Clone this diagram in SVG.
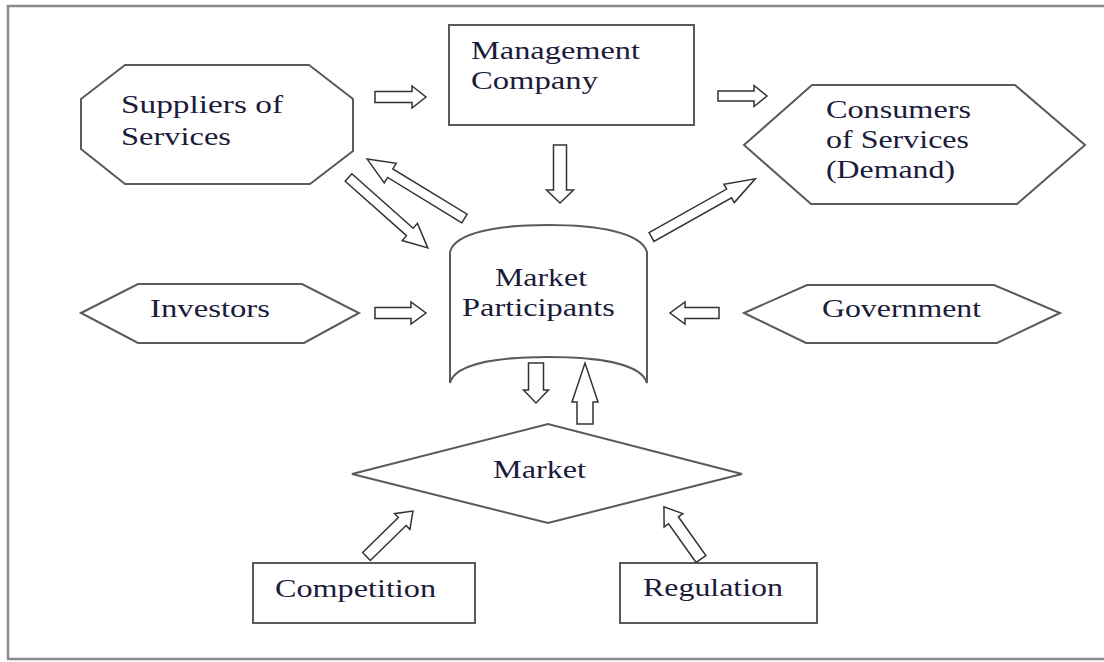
<svg xmlns="http://www.w3.org/2000/svg" width="1104" height="662" viewBox="0 0 1104 662">
<style>
.frame{fill:none;stroke:#8a8a8a;stroke-width:2.5}
.node{fill:#fff;stroke:#5a5a5a;stroke-width:2}
.arr{fill:#fff;stroke:#333;stroke-width:1.5;stroke-linejoin:miter}
.t{font-family:"Liberation Serif","Times New Roman",serif;font-size:26px;fill:#1b1b3a}
</style>
<rect width="1104" height="662" fill="#fff"/>
<rect class="frame" x="8" y="6" width="1100" height="653"/>
<g id="suppliers">
<polygon class="node" points="81,99 125,65 309,65 353,99 353,151 310,184 125,184 81,149"/>
<text class="t" x="121" y="113" textLength="162" lengthAdjust="spacingAndGlyphs">Suppliers of</text>
<text class="t" x="121" y="145" textLength="110" lengthAdjust="spacingAndGlyphs">Services</text>
</g>
<g id="management">
<rect class="node" x="449" y="25" width="245" height="100"/>
<text class="t" x="471" y="59" textLength="169" lengthAdjust="spacingAndGlyphs">Management</text>
<text class="t" x="471" y="89" textLength="127" lengthAdjust="spacingAndGlyphs">Company</text>
</g>
<g id="consumers">
<polygon class="node" points="744,145 812,85 1015,85 1085,145 1017,204 811,204"/>
<text class="t" x="826" y="118" textLength="145" lengthAdjust="spacingAndGlyphs">Consumers</text>
<text class="t" x="826" y="148" textLength="143" lengthAdjust="spacingAndGlyphs">of Services</text>
<text class="t" x="826" y="178" textLength="129" lengthAdjust="spacingAndGlyphs">(Demand)</text>
</g>
<g id="market-participants">
<path class="node" d="M450,252 C455,232 500,225 548,225 C596,225 641,232 647,252 L647,383 C641,363 596,357 548,357 C500,357 455,363 450,383 Z"/>
<text class="t" x="495" y="286" textLength="92" lengthAdjust="spacingAndGlyphs">Market</text>
<text class="t" x="462" y="316" textLength="153" lengthAdjust="spacingAndGlyphs">Participants</text>
</g>
<g id="investors">
<polygon class="node" points="81,313 138,284 302,284 359,313 304,343 138,343"/>
<text class="t" x="150" y="317" textLength="120" lengthAdjust="spacingAndGlyphs">Investors</text>
</g>
<g id="government">
<polygon class="node" points="744,313 807,285 994,285 1060,313 997,343 806,343"/>
<text class="t" x="822" y="317" textLength="159" lengthAdjust="spacingAndGlyphs">Government</text>
</g>
<g id="market">
<polygon class="node" points="352,474 548,424 742,474 548,523"/>
<text class="t" x="493" y="478" textLength="93" lengthAdjust="spacingAndGlyphs">Market</text>
</g>
<g id="competition">
<rect class="node" x="253" y="563" width="222" height="60"/>
<text class="t" x="275" y="597" textLength="161" lengthAdjust="spacingAndGlyphs">Competition</text>
</g>
<g id="regulation">
<rect class="node" x="620" y="563" width="197" height="60"/>
<text class="t" x="643" y="596" textLength="140" lengthAdjust="spacingAndGlyphs">Regulation</text>
</g>
<g id="connectors">
<path class="arr" transform="translate(375,97)" d="M0,-5.5 L37,-5.5 L37,-11 L51,0 L37,11 L37,5.5 L0,5.5 Z"/>
<path class="arr" transform="translate(718,96)" d="M0,-5 L36,-5 L36,-10.5 L49,0 L36,10.5 L36,5 L0,5 Z"/>
<path class="arr" transform="translate(375,313)" d="M0,-5.5 L36,-5.5 L36,-11 L51,0 L36,11 L36,5.5 L0,5.5 Z"/>
<path class="arr" transform="translate(719,313) rotate(180)" d="M0,-5.5 L34,-5.5 L34,-11 L49,0 L34,11 L34,5.5 L0,5.5 Z"/>
<path class="arr" transform="translate(560,145) rotate(90)" d="M0,-6.5 L45,-6.5 L45,-13.5 L58,0 L45,13.5 L45,6.5 L0,6.5 Z"/>
<path class="arr" transform="translate(536,363) rotate(90)" d="M0,-7.5 L27,-7.5 L27,-12.5 L40,0 L27,12.5 L27,7.5 L0,7.5 Z"/>
<path class="arr" transform="translate(585,424) rotate(-90)" d="M0,-8 L22,-8 L22,-13 L61,0 L22,13 L22,8 L0,8 Z"/>
<path class="arr" transform="translate(348.5,177.5) rotate(41.6)" d="M0,-5 L82,-5 L82,-11.5 L106,0 L82,11.5 L82,5 L0,5 Z"/>
<path class="arr" transform="translate(464.5,218.5) rotate(211.4)" d="M0,-5 L87,-5 L87,-11.5 L114,0 L87,11.5 L87,5 L0,5 Z"/>
<path class="arr" transform="translate(651.5,237) rotate(-29.3)" d="M0,-5 L89,-5 L89,-10.5 L119,0 L89,10.5 L89,5 L0,5 Z"/>
<path class="arr" transform="translate(366.5,556.5) rotate(-44.4)" d="M0,-5.5 L50,-5.5 L50,-11 L65,0 L50,11 L50,5.5 L0,5.5 Z"/>
<path class="arr" transform="translate(701,559) rotate(-125.4)" d="M0,-6 L47.5,-6 L47.5,-11.5 L64,0 L47.5,11.5 L47.5,6 L0,6 Z"/>
</g>
</svg>
